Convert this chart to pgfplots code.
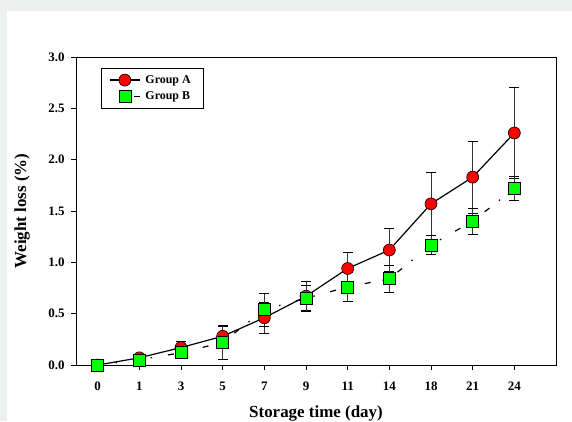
\documentclass[border=0pt]{standalone}
\usepackage{fontspec}
\setmainfont{Liberation Serif}
\usepackage{pgfplots}
\usepackage{pgfplotstable}
\pgfplotsset{compat=1.18}
\definecolor{bggray}{HTML}{EEF0EF}
\definecolor{mred}{HTML}{FF0000}
\definecolor{mgreen}{HTML}{00FF00}

\pgfplotstableread{
x y err
0 0.00 0.01
1 0.07 0.02
2 0.17 0.06
3 0.28 0.10
4 0.46 0.15
5 0.67 0.14
6 0.94 0.16
7 1.12 0.21
8 1.57 0.31
9 1.83 0.35
10 2.26 0.44
}\groupA

\pgfplotstableread{
x y err
0 0.00 0.01
1 0.05 0.02
2 0.12 0.03
3 0.22 0.17
4 0.54 0.16
5 0.65 0.13
6 0.76 0.14
7 0.84 0.13
8 1.17 0.09
9 1.40 0.13
10 1.72 0.12
}\groupB

\begin{document}
\begin{tikzpicture}[x=1bp,y=1bp]
\useasboundingbox (0,0) rectangle (572,421);
\fill[bggray] (0,0) rectangle (572,421);
\fill[white] (7,0) rectangle (572,410);
\begin{axis}[
  at={(76bp,56bp)}, anchor=south west,
  width=480bp, height=308bp, scale only axis,
  xmin=-0.52, xmax=11, ymin=0, ymax=3,
  xtick={0,...,10},
  xticklabels={0,1,3,5,7,9,11,14,18,21,24},
  ytick={0,0.5,...,3},
  xtick pos=left, ytick pos=left,
  tick align=outside,
  major tick length=5bp,
  axis line style={line width=1bp},
  tick style={line width=0.8bp, black},
  /pgf/number format/assume math mode=true,
  ticklabel style={font=\bfseries\fontsize{13}{15}\selectfont},
  xticklabel style={yshift=-8bp},
  yticklabel style={xshift=-3bp, /pgf/number format/.cd, fixed, fixed zerofill, precision=1},
  xlabel={Storage time (day)},
  ylabel={Weight loss (\%)},
  label style={font=\bfseries\fontsize{17}{19}\selectfont},
  xlabel style={at={(axis description cs:0.5,-0.172)}, anchor=base},
  ylabel style={at={(axis description cs:-0.1125,0.5)}, anchor=center},
  legend style={at={(axis description cs:0.052,0.964)}, anchor=north west,
    draw=black, line width=0.6bp, font=\bfseries\fontsize{12}{14}\selectfont,
    inner xsep=8bp, inner ysep=5bp, row sep=3bp,
    nodes={inner xsep=5bp}},
  legend cell align=left,
  legend image code/.code={\draw[#1, mark repeat=2, mark phase=2] plot coordinates {(0bp,0bp) (15bp,0bp) (30bp,0bp)};},
  clip=false,
]
\addplot[black, line width=1.2bp, mark=*, mark size=6bp,
  mark options={fill=mred, draw=black, line width=0.6bp, solid},
  error bars/.cd, y dir=both, y explicit,
  error mark options={rotate=90, mark size=5bp, line width=0.8bp, black},
  error bar style={line width=0.8bp, black!80}]
  table[x=x, y=y, y error=err] {\groupA};
\addlegendentry{Group A}
\addplot[black, line width=1.2bp, dash pattern=on 6bp off 12bp on 1.5bp off 16bp,
  mark=square*, mark size=6bp,
  mark options={fill=mgreen, draw=black, line width=0.6bp, solid},
  legend image code/.code={\draw[black, line width=1.2bp, dash pattern=on 0bp off 24bp on 6bp off 10bp, mark=square*, mark size=6bp, mark options={fill=mgreen, draw=black, line width=0.6bp, solid}, mark repeat=2, mark phase=2] plot coordinates {(0bp,0bp) (15bp,0bp) (30bp,0bp)};},
  error bars/.cd, y dir=both, y explicit,
  error mark options={rotate=90, mark size=5bp, line width=0.8bp, black, solid},
  error bar style={line width=0.8bp, black!80, solid}]
  table[x=x, y=y, y error=err] {\groupB};
\addlegendentry{Group B}
\end{axis}
\end{tikzpicture}
\end{document}
